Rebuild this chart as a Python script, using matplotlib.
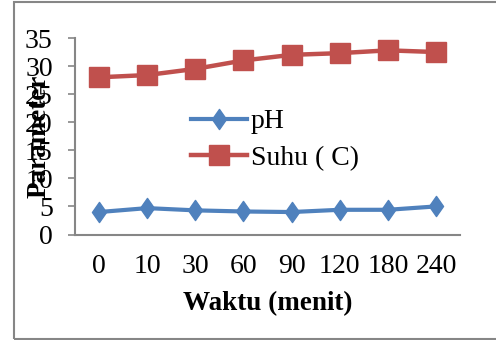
import matplotlib.pyplot as plt
from matplotlib.patches import Rectangle
from matplotlib.path import Path

# waktu pengukuran (menit) dan parameter yang diukur
waktu = ["0", "10", "30", "60", "90", "120", "180", "240"]
ph = [4.0, 4.7, 4.3, 4.1, 4.0, 4.4, 4.4, 5.0]
suhu = [28.0, 28.4, 29.5, 31.0, 32.0, 32.3, 32.8, 32.5]

plt.rcParams['font.family'] = ['Liberation Serif', 'DejaVu Serif']

fig = plt.figure(figsize=(4.96, 3.40), dpi=100)
ax = fig.add_axes([75/496, 1-234.5/340, 385/496, (234.5-38)/340])

biru = "#4F81BD"
merah = "#C0504D"
abu = "#868686"

# diamond yang agak tinggi
belah_ketupat = Path([(0, 1), (0.7, 0), (0, -1), (-0.7, 0), (0, 1)],
                     [Path.MOVETO, Path.LINETO, Path.LINETO, Path.LINETO, Path.CLOSEPOLY])

x = list(range(len(waktu)))
ax.plot(x, ph, color=biru, lw=3, marker=belah_ketupat, ms=14.5, label="pH")
ax.plot(x, suhu, color=merah, lw=3.2, marker="s", ms=14.5, label="Suhu ( C)")

ax.set_xlim(-0.5, 7.5)
ax.set_ylim(0, 35)
ax.set_yticks(range(0, 36, 5))
ax.set_xticks(x)
ax.set_xticklabels(waktu)

for s in ["top", "right"]:
    ax.spines[s].set_visible(False)
ax.spines["left"].set_color(abu)
ax.spines["bottom"].set_color(abu)
ax.spines["left"].set_linewidth(1.5)
ax.spines["bottom"].set_linewidth(1.5)

ax.tick_params(axis="y", length=5, width=1.2, color=abu, pad=11, labelsize=20)
ax.tick_params(axis="x", length=0, pad=14, labelsize=20)

ax.set_xlabel("Waktu (menit)", fontsize=19.5, fontweight="bold", labelpad=9)
ax.set_ylabel("Parameter", fontsize=19.5, fontweight="bold")
ax.yaxis.set_label_coords(-0.062, 0.5)

ax.legend(loc="upper left", bbox_to_anchor=(191/496, 1-109/340), bbox_transform=fig.transFigure,
          frameon=False, fontsize=20, handlelength=2.0, handletextpad=0.15,
          borderpad=0, borderaxespad=0, labelspacing=0.4)

# bingkai luar
fig.add_artist(Rectangle((14/496, 1-339/340), 1.0, (339-2)/340, transform=fig.transFigure,
                         fill=False, edgecolor=abu, lw=1.5))

fig.savefig("out.png", dpi=100)
